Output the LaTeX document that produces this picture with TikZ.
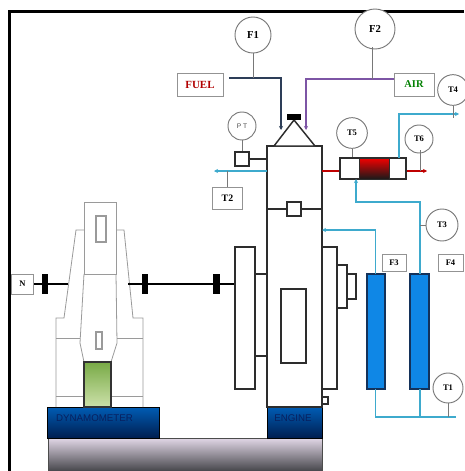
\documentclass[tikz,border=0pt]{standalone}
\usepackage{fontspec}
\setmainfont{Liberation Serif}
\newfontfamily\labelsans{Liberation Sans}
\usepackage{tikz}
\usetikzlibrary{positioning, arrows.meta, calc}

\definecolor{pipeblue}{RGB}{62,170,205}
\definecolor{fuelline}{RGB}{45,62,88}
\definecolor{airline}{RGB}{125,85,165}
\definecolor{tagline}{RGB}{120,120,120}
\definecolor{framegray}{RGB}{45,45,45}
\definecolor{mounttop}{RGB}{0,92,180}
\definecolor{mountbot}{RGB}{0,30,80}
\definecolor{mounttext}{RGB}{8,32,95}
\definecolor{basetop}{RGB}{225,215,230}
\definecolor{basebot}{RGB}{70,70,75}
\definecolor{greentop}{RGB}{120,170,70}
\definecolor{greenbot}{RGB}{205,225,170}
\definecolor{columnfill}{RGB}{15,135,230}
\definecolor{columnedge}{RGB}{20,50,90}

\tikzset{
	gauge/.style={circle, draw=tagline, fill=white, line width=0.7pt, minimum size=#1, inner sep=0pt, font=\fontsize{6.4}{7}\selectfont\bfseries},
	tagbox/.style={rectangle, draw=tagline!80, fill=white, line width=0.65pt, inner sep=0pt, font=\fontsize{6.4}{7}\selectfont\bfseries},
	part/.style={draw=framegray, fill=white, line width=1.1pt},
	dyno/.style={draw=tagline!75, line width=0.6pt},
	mount/.style={draw=black, top color=mounttop, bottom color=mountbot, inner sep=0pt, line width=0.5pt, minimum height=23.25pt},
	mountlabel/.style={text=mounttext, font=\fontsize{7.3}{8}\selectfont\labelsans, inner sep=0pt},
	column/.style={draw=columnedge, fill=columnfill, line width=1pt},
	pipe/.style={draw=pipeblue, line width=1.2pt},
	stem/.style={draw=tagline, line width=0.7pt},
	tip/.style={-{Stealth[length=3pt,width=3pt]}}
}

\begin{document}
\begin{tikzpicture}[x=0.75pt, y=-0.75pt]
	\useasboundingbox (0,0) rectangle (464,471);

	% Frame
	\fill[black] (8,10) rectangle (464,12.5);
	\fill[black] (8,10) rectangle (10.5,471);

	% Base and mounts
	\path[top color=basetop, bottom color=basebot, draw=black!70, line width=0.6pt] (48,438) rectangle (322,471);
	\node[mount, minimum width=84pt] (dynobase) at (103,422.5) {};
	\node[mountlabel] (dynotext) at (94.5,418) {DYNAMOMETER};
	\node[mount, minimum width=41.25pt] (enginebase) at (294.5,422.5) {};
	\node[mountlabel] (enginetext) at (293,418) {ENGINE};

	% Dynamometer
	\draw[dyno] (84,274) -- (84,202) -- (116,202) -- (116,274) -- cycle;
	\draw[dyno] (84,230) -- (76,230) -- (64,318) -- (56,318) -- (56,407);
	\draw[dyno] (116,230) -- (124,230) -- (133,318) -- (143,318) -- (143,407);
	\draw[dyno] (84,274) -- (80,343) -- (84,362);
	\draw[dyno] (116,274) -- (117,343) -- (111,362);
	\draw[dyno] (56,338) -- (80,338);
	\draw[dyno] (117,338) -- (143,338);
	\draw[dyno] (56,396) -- (84,396);
	\draw[dyno] (111,396) -- (143,396);
	\draw[dyno, line width=0.8pt] (96,216) rectangle (106,242);
	\draw[dyno, line width=0.8pt] (96,332) rectangle (102,349);
	\path[draw=black!80, line width=0.9pt, top color=greentop, bottom color=greenbot] (84,362) rectangle (111,407);

	% Shaft
	\node[tagbox, minimum width=17pt, minimum height=15pt] (N) at (22.5,284) {N};
	\coordinate (dynoL) at (68,284);
	\coordinate (dynoR) at (128,284);
	\node[fill=black, minimum width=4.5pt, minimum height=15pt, inner sep=0pt] (coupA) at (45,284) {};
	\node[fill=black, minimum width=4.5pt, minimum height=15pt, inner sep=0pt] (coupB) at (145,284) {};
	\node[fill=black, minimum width=5.2pt, minimum height=15pt, inner sep=0pt] (coupC) at (216.5,284) {};
	\coordinate (flyL) at (235,284);
	\draw[black, line width=1.3pt] (N) -- (dynoL);
	\draw[black, line width=1.3pt] (dynoR) -- (flyL);

	% Engine
	\draw[part] (267,146) rectangle (322,407);
	\draw[part] (294,120) -- (274,146) -- (315,146) -- cycle;
	\draw[part] (235,247) rectangle (255,389);
	\draw[part] (255,274) rectangle (267,356);
	\draw[part] (267,209) -- (322,209);
	\draw[part] (287,202) rectangle (301,216);
	\draw[part] (281,289) rectangle (306,363);
	\draw[part] (322,247) rectangle (337,389);
	\draw[part] (337,265) rectangle (347,308);
	\draw[part] (347,274) rectangle (356,299);
	\draw[part] (322,397) rectangle (328,404);
	\node[fill=black, minimum width=10.5pt, minimum height=4.5pt, inner sep=0pt] (nozzle) at (294,117) {};

	% Fuel and air
	\node[tagbox, text=red!70!black, minimum width=34.5pt, minimum height=17.25pt, font=\fontsize{8.2}{9}\selectfont\bfseries] (FUEL) at (200,84.5) {FUEL};
	\node[tagbox, text=green!50!black, minimum width=30pt, minimum height=17.25pt, font=\fontsize{7.8}{9}\selectfont\bfseries] (AIR) at (414,84.5) {AIR};
	\node[gauge=27pt, font=\fontsize{8}{9}\selectfont\bfseries] (F1) at (253,35) {F1};
	\node[gauge=30pt, font=\fontsize{8}{9}\selectfont\bfseries] (F2) at (375,29) {F2};
	\coordinate (fuelS) at (229,78);
	\coordinate (fuelE) at (281,130);
	\coordinate (airE) at (306,130);
	\draw[fuelline, line width=1.2pt, tip] (fuelS) -| (fuelE);
	\draw[airline, line width=1.2pt, tip] (AIR.west |- 0,79) -| (airE);
	\draw[stem] (F1) -- (F1 |- fuelS);
	\draw[stem] (372,47) -- (372,79);

	% Pressure tap
	\node[part, minimum width=10.5pt, minimum height=10.5pt, inner sep=0pt] (PTbox) at (242,159) {};
	\node[gauge=21pt, font=\fontsize{5}{6}\selectfont\labelsans, text=black!70] (PT) at (242,126) {P T};
	\draw[stem] (PT) -- (PTbox);
	\draw[part] (PTbox) -- (267,159);

	% Exhaust
	\node[tagbox, minimum width=22pt, minimum height=16.5pt, font=\fontsize{7.4}{9}\selectfont\bfseries] (T2) at (227.5,198) {T2};
	\coordinate (exOut) at (214,171);
	\coordinate (exIn) at (267,171);
	\draw[pipe, tip] (exIn) -- (exOut);
	\draw[stem] (T2) -- (T2 |- exOut);

	% Heat exchanger
	\node[draw=framegray, fill=white, minimum width=49.5pt, minimum height=15.75pt, inner sep=0pt, line width=0.9pt] (exch) at (373,168.5) {};
	\path[draw=framegray, line width=0.5pt, top color=red!95!black, bottom color=black!90] (359,158) rectangle (389,179);
	\coordinate (hotOut) at (427,171);
	\draw[red!75!black, line width=1.2pt] (322,171) -- (exch.west |- exIn);
	\draw[red!75!black, line width=1.2pt, tip] (exch.east |- exIn) -- (hotOut);
	\node[gauge=23pt] (T5) at (352,133) {T5};
	\node[gauge=21pt] (T6) at (419,139) {T6};
	\draw[stem] (T5) -- (T5 |- exch.north);
	\draw[stem] (420,150) -- (420,171);

	% Coolant columns
	\path[column] (367,274) rectangle (385,389);
	\path[column] (410,274) rectangle (429,389);
	\coordinate (colA) at (375.5,274);
	\coordinate (colB) at (420,274);
	\coordinate (colAb) at (375.5,389);
	\coordinate (colBb) at (420,389);
	\coordinate (drain) at (456,417);
	\draw[pipe, tip] (colA) |- (322,230);
	\draw[pipe, tip] (colB) |- (356,202) -- (356,179);
	\draw[pipe] (colAb) |- (drain);
	\draw[pipe] (colBb) -- (420,417);
	\draw[pipe, tip] (399,158) |- (459,114);
	\node[gauge=23pt] (T4) at (453,90) {T4};
	\draw[stem] (T4) -- (453,118);
	\node[gauge=24pt] (T3) at (442,225) {T3};
	\draw[stem] (T3) -- (T3 -| colB);
	\node[gauge=22.5pt] (T1) at (448,388) {T1};
	\draw[stem] (T1) -- (T1 |- drain);
	\node[tagbox, minimum width=18pt, minimum height=12.75pt] (F3) at (394,262.5) {F3};
	\node[tagbox, minimum width=18.75pt, minimum height=12.75pt] (F4) at (450.5,262.5) {F4};
\end{tikzpicture}
\end{document}
